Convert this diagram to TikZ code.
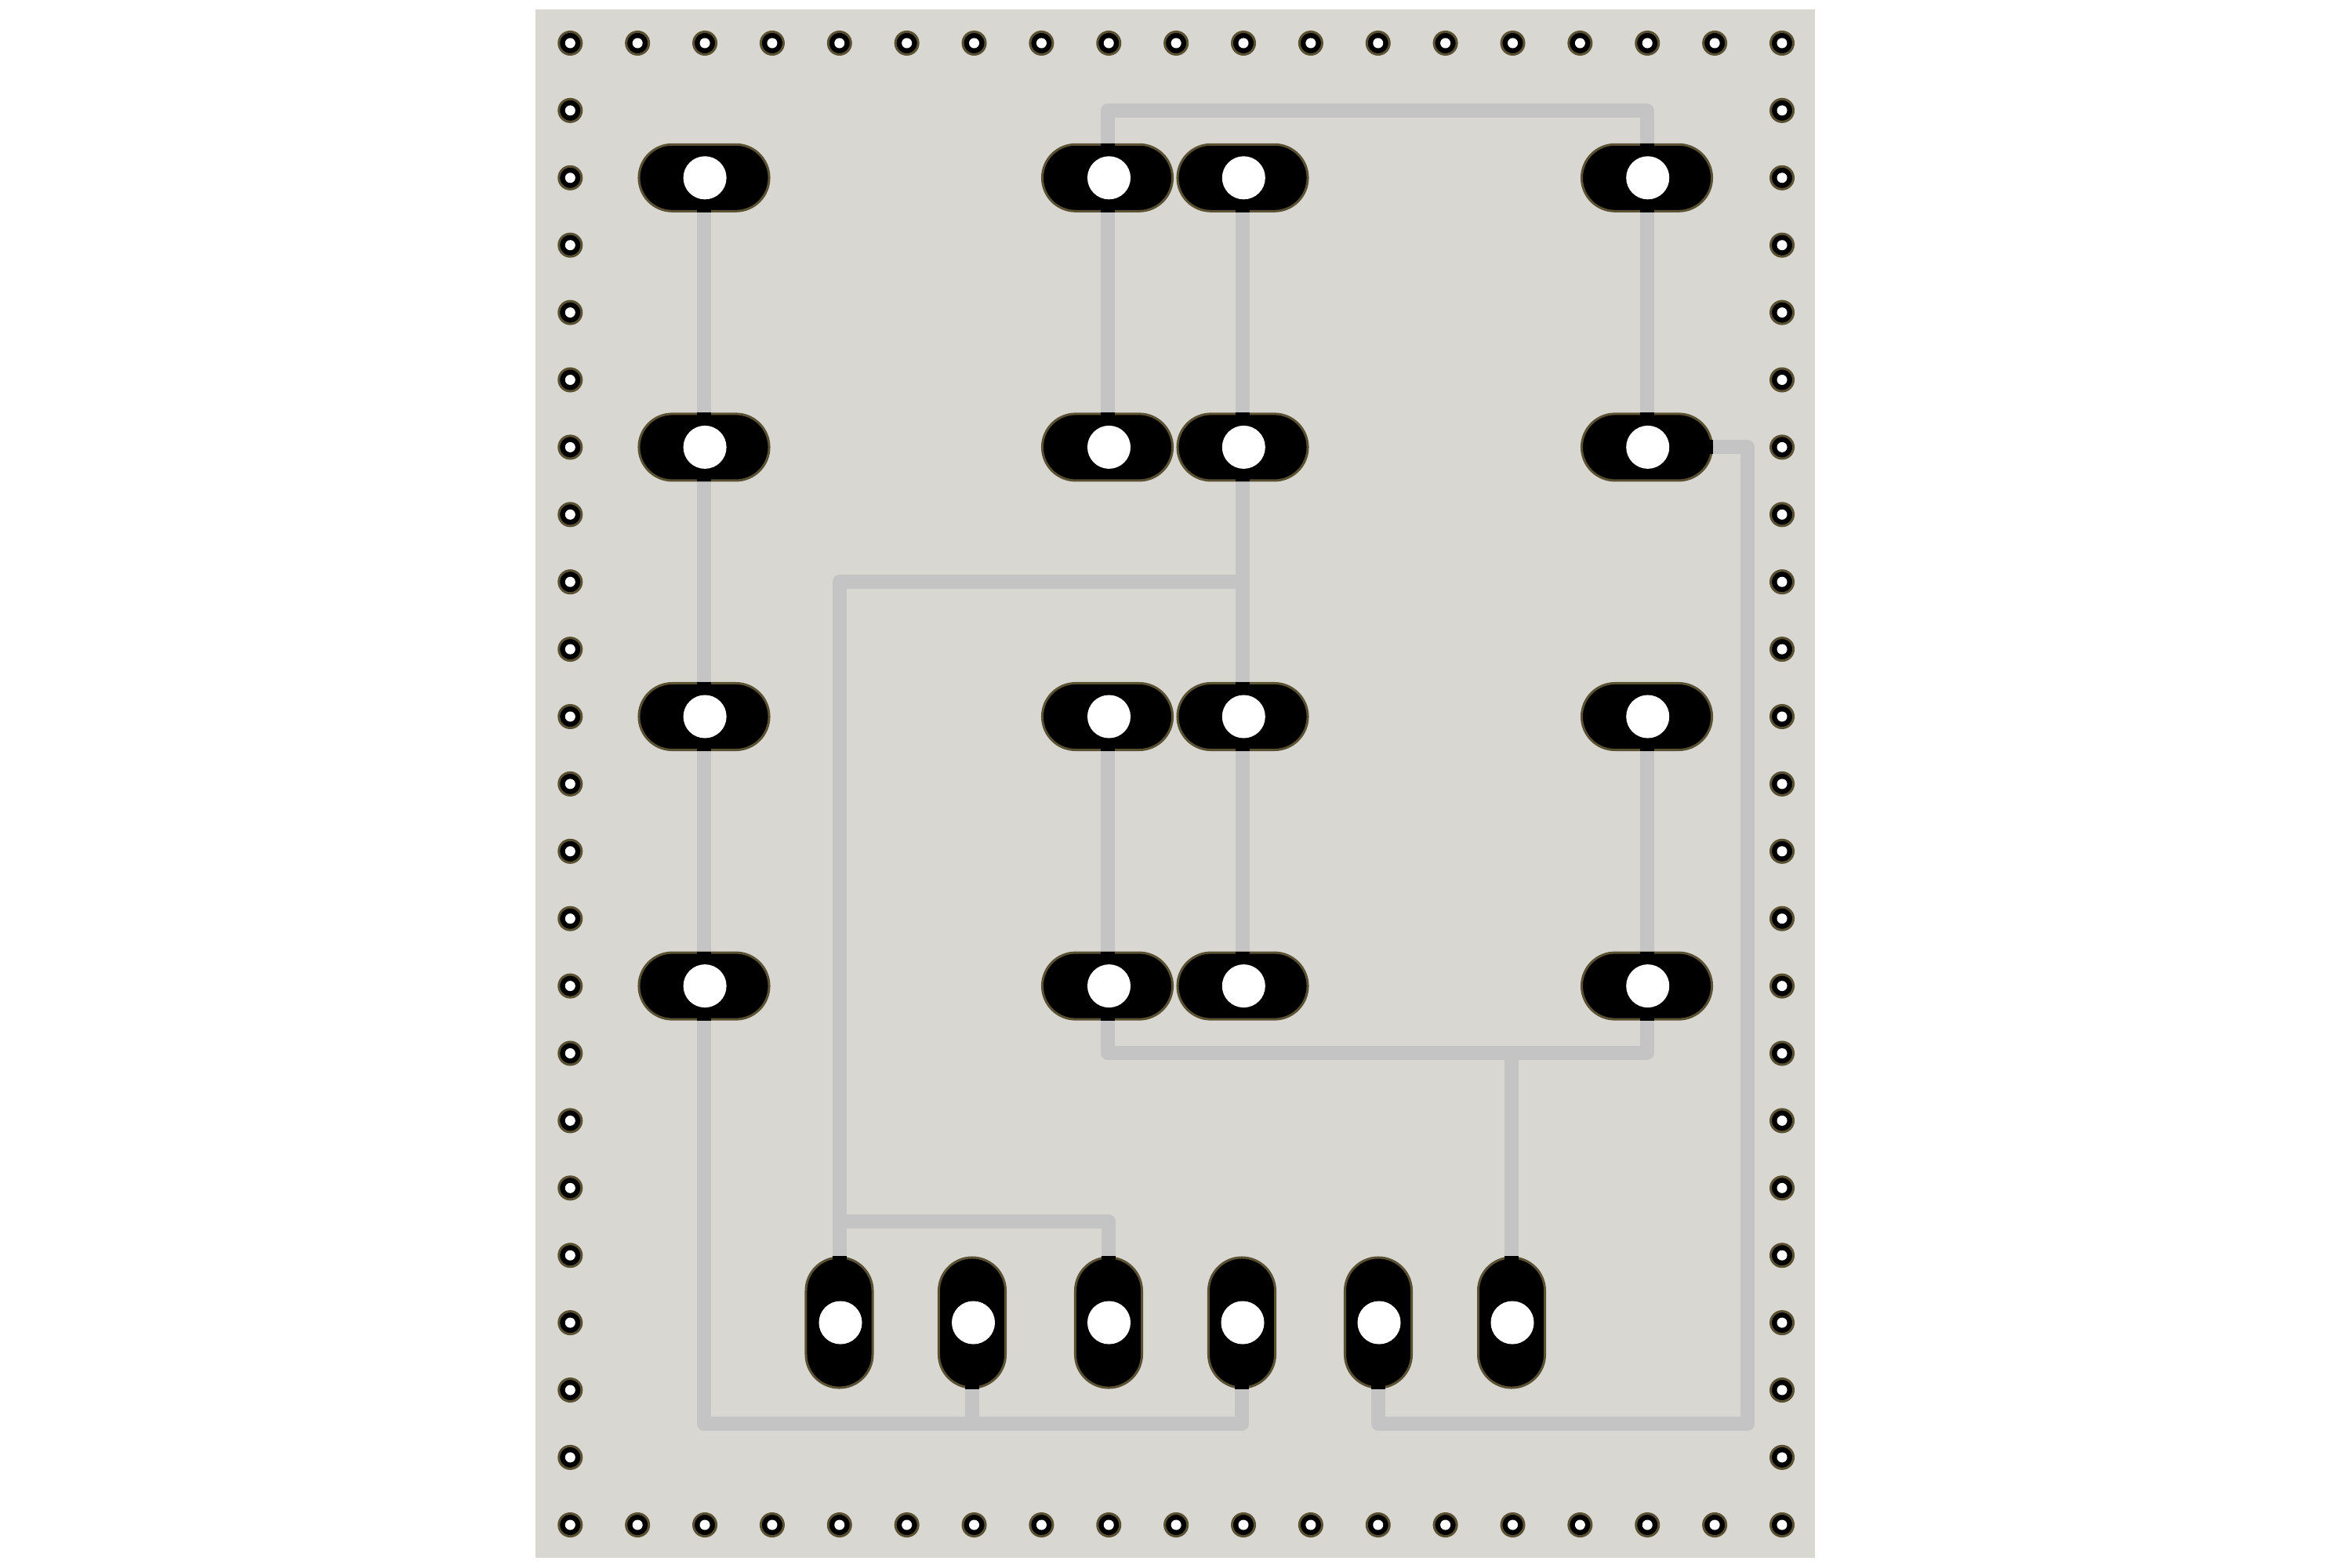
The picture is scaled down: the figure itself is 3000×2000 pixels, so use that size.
\documentclass[tikz,border=0pt]{standalone}
\usetikzlibrary{backgrounds}
\definecolor{boardcol}{HTML}{D8D7D2}
\definecolor{tracecol}{HTML}{C4C4C4}
\definecolor{ringcol}{HTML}{5A5032}

\begin{document}
\begin{tikzpicture}[
            x=0.01cm,y=-0.01cm,
            trace/.style={tracecol,line width=0.18cm,line join=round},
            via/.style={circle,draw=ringcol,fill=black,line width=0.03cm,inner sep=0,minimum size=0.29cm},
            viahole/.style={circle,fill=white,inner sep=0,minimum size=0.13cm},
            hpad/.style={rectangle,draw=ringcol,fill=black,line width=0.03cm,inner sep=0,
                minimum width=1.66cm,minimum height=0.85cm,rounded corners=0.425cm},
            vpad/.style={rectangle,draw=ringcol,fill=black,line width=0.03cm,inner sep=0,
                minimum width=0.85cm,minimum height=1.66cm,rounded corners=0.425cm},
            padhole/.style={circle,fill=white,inner sep=0,minimum size=0.55cm},
            neck/.style={rectangle,fill=black,inner sep=0,outer sep=0,minimum size=0.18cm}
        ]
            \useasboundingbox (0,0) rectangle (3000,2000);

            % pads
            \foreach \n/\x in {a/898,b/1412.5,c/1585,d/2100.5}
                \foreach \r/\y in {1/226.8,2/570.4,3/914,4/1257.6}
                    \node[hpad] (\n\r) at (\x,\y) {};
            \foreach \k/\x in {1/1070.5,2/1240,3/1414,4/1584,5/1758,6/1928}
                \node[vpad] (v\k) at (\x,1687) {};

            % bends of the traces
            \coordinate (busleft) at (a1 |- 0,1816);
            \coordinate (busright) at (v4 |- 0,1816);
            \coordinate (topleft) at (b1 |- 0,141);
            \coordinate (topright) at (d1 |- 0,141);
            \coordinate (midleft) at (v1 |- 0,742);
            \coordinate (midright) at (c1 |- 0,742);
            \coordinate (lowleft) at (v1 |- 0,1558);
            \coordinate (lowright) at (v3 |- 0,1558);
            \coordinate (gndleft) at (b4 |- 0,1343);
            \coordinate (gndright) at (d4 |- 0,1343);
            \coordinate (sideup) at (2229,570.4);
            \coordinate (sidedown) at (2229,1816);
            \coordinate (sideleft) at (v5 |- 0,1816);

            \begin{scope}[on background layer]
                \fill [boardcol] (683,12) rectangle (2315,1987);
                \draw [trace] (a1.center) -- (busleft) -- (busright) -- (v4.center);
                \draw [trace] (v2.center) -- (v2 |- busleft);
                \draw [trace] (b2.center) -- (topleft) -- (topright) -- (d2.center);
                \draw [trace] (c1.center) -- (c4.center);
                \draw [trace] (midright) -- (midleft) -- (v1.center);
                \draw [trace] (v1 |- lowleft) -- (lowright) -- (v3.center);
                \draw [trace] (b3.center) -- (gndleft) -- (gndright) -- (d3.center);
                \draw [trace] (v6.center) -- (v6 |- gndleft);
                \draw [trace] (d2.center) -- (sideup) -- (sidedown) -- (sideleft) -- (v5.center);
            \end{scope}

            % where a trace enters a pad
            \foreach \p/\a in {a1/south,a2/north,a2/south,a3/north,a3/south,a4/north,a4/south,
                    b1/north,b1/south,b2/north,b3/south,b4/north,b4/south,
                    c1/south,c2/north,c2/south,c3/north,c3/south,c4/north,
                    d1/north,d1/south,d2/north,d2/east,d3/south,d4/north,d4/south,
                    v1/north,v2/south,v3/north,v4/south,v5/south,v6/north}
                \node[neck,anchor=\a] (\p-\a) at (\p.\a) {};

            \foreach \n/\x in {a/899.1,b/1414.5,c/1586.3,d/2101.7}
                \foreach \r/\y in {1/226.8,2/570.4,3/914,4/1257.6}
                    \node[padhole] (hole\n\r) at (\x,\y) {};
            \foreach \k/\x in {1/1072,2/1241.5,3/1414.5,4/1585,5/1759,6/1929}
                \node[padhole] (holev\k) at (\x,1687) {};

            % vias round the edge
            \foreach \i in {0,...,18} {
                \node[via] (top\i) at ({727.3+85.87*\i},55) {};
                \node[viahole] (tophole\i) at (top\i) {};
                \node[via] (bot\i) at ({727.3+85.87*\i},1945) {};
                \node[viahole] (bothole\i) at (bot\i) {};
            }
            \foreach \j in {1,...,21} {
                \node[via] (left\j) at (727.3,{55+85.9*\j}) {};
                \node[viahole] (lefthole\j) at (left\j) {};
                \node[via] (right\j) at (2273,{55+85.9*\j}) {};
                \node[viahole] (righthole\j) at (right\j) {};
            }
        \end{tikzpicture}
\end{document}
